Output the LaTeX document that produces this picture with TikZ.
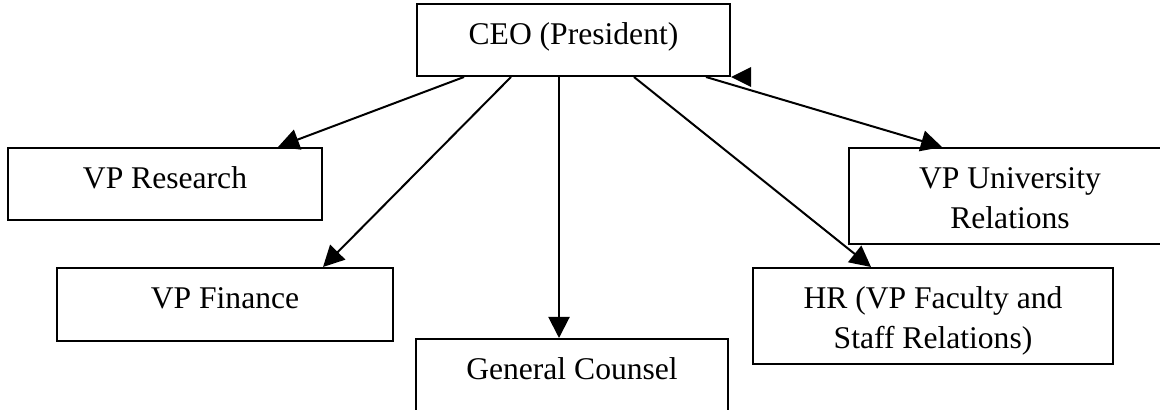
\documentclass[tikz,border=0pt]{standalone}
\usepackage{fontspec}
\setmainfont{Liberation Serif}
\usetikzlibrary{arrows.meta,calc}
\newcommand{\orgtext}[3]{\parbox[c][#2][t]{#1}{\centering\rule{0pt}{20.5pt}#3}}
\tikzset{
  orgbox/.style={draw, line width=1pt, inner sep=0pt, anchor=north,
    font=\fontsize{15.8}{20}\selectfont},
  report/.style={line width=1pt, -{Triangle[length=10.5pt,width=10.5pt]}}
}
\begin{document}
\begin{tikzpicture}[x=0.5pt,y=-0.5pt]
  \useasboundingbox (0,0) rectangle (1160,410);
  \clip (0,0) rectangle (1160,410);
  % boxes
  \node[orgbox] (ceo) at (573.5,3) {\orgtext{156.5pt}{36pt}{CEO (President)}};
  \node[orgbox] (research) at (165,147) {\orgtext{157pt}{36pt}{VP Research}};
  \node[orgbox] (finance) at (225,267) {\orgtext{168pt}{36.5pt}{VP Finance}};
  \node[orgbox] (counsel) at (572,338) {\orgtext{156pt}{45pt}{General Counsel}};
  \node[orgbox] (univ) at (1010,147) {\orgtext{161pt}{48pt}{VP University\\Relations}};
  \node[orgbox] (hr) at (933,267) {\orgtext{180pt}{48pt}{HR (VP Faculty and\\Staff Relations)}};
  % reporting lines
  \draw[report] ($(ceo.south west)+(48,0)$) -- ($(research.north east)+(-45,0)$);
  \draw[report] ($(ceo.south west)+(95,0)$) -- ($(finance.north east)+(-71,0)$);
  \draw[report] ($(ceo.south west)+(143,0)$) -- ($(counsel.north west)+(144,0)$);
  \draw[report] ($(ceo.south east)+(-97,0)$) -- ($(hr.north west)+(119,0)$);
  \draw[report] ($(ceo.south east)+(-25,0)$) -- ($(univ.north west)+(94,0)$);
  % loose arrow head at the corner
  \fill (ceo.south east) -- ++(20,-10) -- ++(0,20) -- cycle;
\end{tikzpicture}
\end{document}
